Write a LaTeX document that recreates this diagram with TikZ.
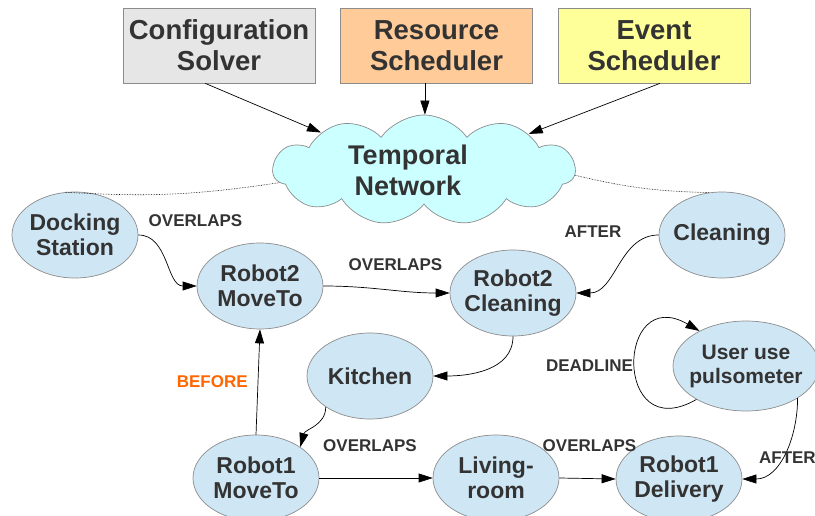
\documentclass[tikz,border=0pt]{standalone}
\usepackage{fontspec}
\setmainfont{Liberation Sans}
\usetikzlibrary{arrows.meta}
\usetikzlibrary{shapes.geometric}
\usetikzlibrary{shapes.symbols}
\definecolor{txtgray}{HTML}{333333}
\definecolor{edgegray}{HTML}{8C8C8C}
\definecolor{conffill}{HTML}{E6E6E6}
\definecolor{resfill}{HTML}{FFCC99}
\definecolor{evtfill}{HTML}{FFFF99}
\definecolor{cloudfill}{HTML}{CCFFFF}
\definecolor{statefill}{HTML}{CFE7F5}
\definecolor{beforeorange}{HTML}{FF6600}
\begin{document}
\begin{tikzpicture}[x=1pt,y=1pt,line width=0.7pt,
    >={Triangle[length=14pt,width=9pt]},
    solver/.style={draw=edgegray, minimum width=192pt, minimum height=75pt, inner sep=0pt,
        align=center, text=txtgray, font=\fontsize{27.5}{31}\selectfont\bfseries},
    state/.style={ellipse, draw=edgegray, fill=statefill, minimum width=126pt, minimum height=86pt,
        inner sep=-5pt, align=center, text=txtgray, font=\fontsize{23}{25}\selectfont\bfseries},
    rel/.style={inner sep=0pt, text=txtgray, font=\fontsize{17}{20}\selectfont\bfseries}]
                \useasboundingbox (0,0) rectangle (815,-516);

                \node[solver, fill=conffill] (conf) at (219,-45.5) {Configuration\\Solver};
                \node[solver, fill=resfill] (res) at (436.5,-45.5) {Resource\\Scheduler};
                \node[solver, fill=evtfill] (evt) at (654,-45.5) {Event\\Scheduler};
                \node[cloud, cloud puffs=11, cloud puff arc=110, draw=edgegray, fill=cloudfill,
                    minimum width=302pt, minimum height=110pt, inner sep=0pt,
                    label={[xshift=-16pt, align=center, text=txtgray, font=\fontsize{27}{31}\selectfont\bfseries]center:Temporal\\Network}]
                    (tn) at (424,-170) {};

                \node[state] (dock) at (75,-235) {Docking\\Station};
                \node[state] (r2move) at (260,-286) {Robot2\\MoveTo};
                \node[state] (r2clean) at (513,-293) {Robot2\\Cleaning};
                \node[state] (clean) at (722,-235) {Cleaning};
                \node[state] (kitchen) at (370,-376) {Kitchen};
                \node[state, minimum width=146pt, minimum height=90pt, font=\fontsize{21}{24}\selectfont\bfseries] (pulse) at (746,-366) {User use\\pulsometer};
                \node[state] (r1move) at (256,-478) {Robot1\\MoveTo};
                \node[state] (living) at (496,-478) {Living-\\room};
                \node[state] (r1deliv) at (679,-479) {Robot1\\Delivery};

                \draw[->] (conf.250) -- (tn.160);
                \draw[->] (res.253) -- (res.253 |- tn.north);
                \draw[->] (evt.279) -- (tn.19);
                \draw[densely dotted, line width=0.6pt] (tn.185) to[bend left=6] (dock.103);
                \draw[densely dotted, line width=0.6pt] (tn.-2) to[bend right=6] (clean.107);

                \draw[->] (dock.east) to[out=0, in=180] node[rel, pos=0, anchor=south west, xshift=10pt, yshift=8pt] {OVERLAPS} (r2move.west);
                \draw[->] (r2move.east) to[out=0, in=180] node[rel, midway, above=18pt, xshift=9pt] {OVERLAPS} (r2clean.west);
                \draw[->] (clean.west) to[out=180, in=0] node[rel, pos=0, left=37pt, yshift=3pt] {AFTER} (r2clean.east);
                \draw[->] (r2clean.south) to[out=-90, in=0] (kitchen.east);
                \draw[->] (kitchen.215) to[out=-90, in=75] (r1move.35);
                \draw[->] (r1move.north) -- node[rel, midway, left=10pt, text=beforeorange] {BEFORE} (r2move.south);
                \draw[->] (r1move.east) -- node[rel, midway, above=26pt, xshift=-6pt] {OVERLAPS} (living.west);
                \draw[->] (living.east) -- node[rel, midway, above=26pt, xshift=2pt] {OVERLAPS} (r1deliv.west);
                \draw[->] (pulse.-32) to[out=-90, in=0] node[rel, pos=0.55, xshift=6pt] {AFTER} (r1deliv.east);
                \draw[->] (pulse.214) to[out=210, in=150, looseness=3.6] node[rel, midway, left=2pt] {DEADLINE} (pulse.143);
            \end{tikzpicture}
\end{document}
